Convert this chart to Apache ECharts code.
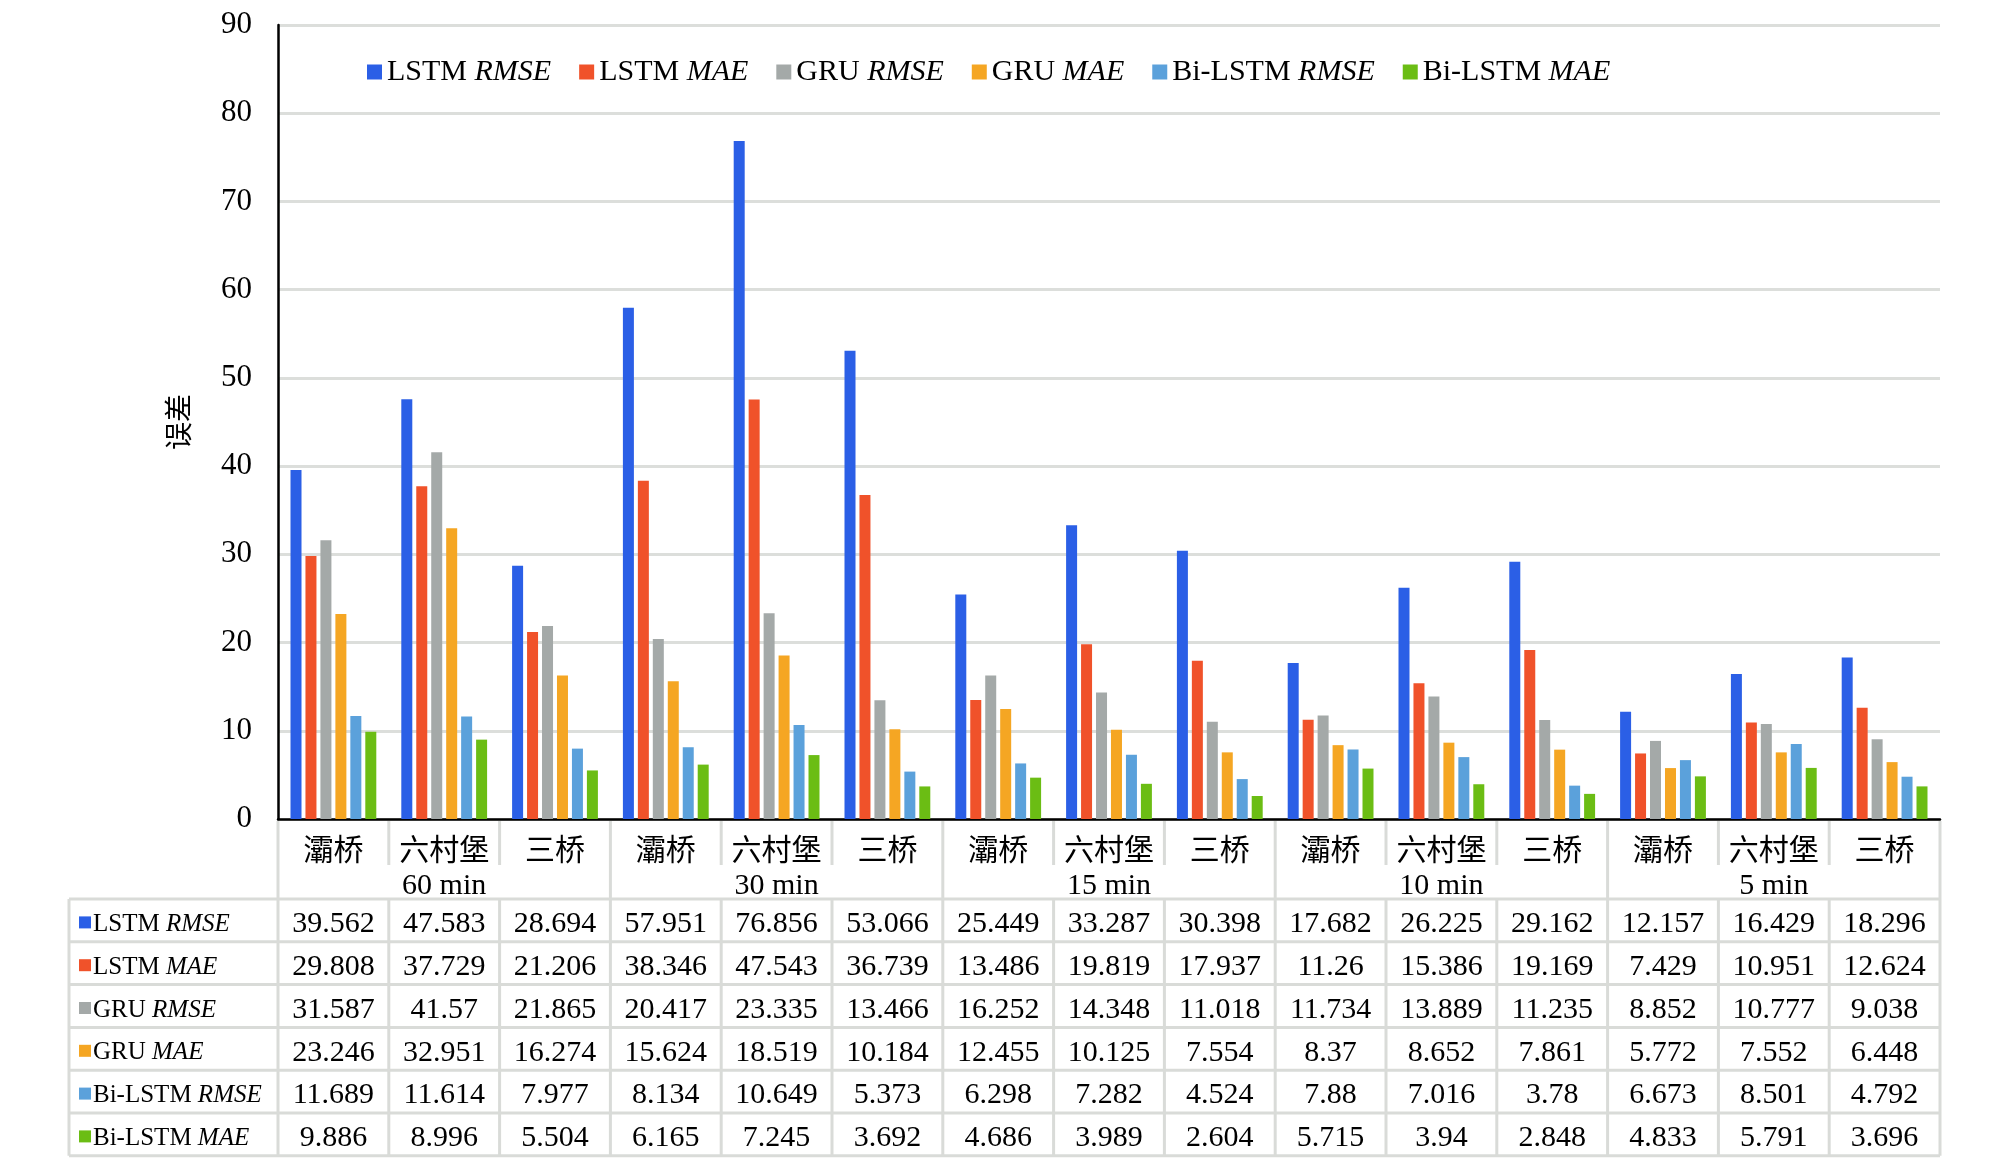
<!DOCTYPE html>
<html><head><meta charset="utf-8">
<script src="https://cdn.jsdelivr.net/npm/echarts@6/dist/echarts.min.js"></script>
<style>html,body{margin:0;padding:0;background:#fff}#c{width:2008px;height:1169px}</style>
</head><body><div id="c"></div>
<script>
const categories = ['灞桥','六村堡','三桥','灞桥','六村堡','三桥','灞桥','六村堡','三桥','灞桥','六村堡','三桥','灞桥','六村堡','三桥'];
const groups = ['60 min','30 min','15 min','10 min','5 min'];
const seriesModel = ['LSTM','LSTM','GRU','GRU','Bi-LSTM','Bi-LSTM'];
const seriesMetric = ['RMSE','MAE','RMSE','MAE','RMSE','MAE'];
const colors = ['#2b5fe6','#f0522a','#a4a9a8','#f5a623','#5ba1db','#6bbd14'];
const lstmRmse = [39.562,47.583,28.694,57.951,76.856,53.066,25.449,33.287,30.398,17.682,26.225,29.162,12.157,16.429,18.296];
const lstmMae  = [29.808,37.729,21.206,38.346,47.543,36.739,13.486,19.819,17.937,11.26,15.386,19.169,7.429,10.951,12.624];
const gruRmse  = [31.587,41.57,21.865,20.417,23.335,13.466,16.252,14.348,11.018,11.734,13.889,11.235,8.852,10.777,9.038];
const gruMae   = [23.246,32.951,16.274,15.624,18.519,10.184,12.455,10.125,7.554,8.37,8.652,7.861,5.772,7.552,6.448];
const biRmse   = [11.689,11.614,7.977,8.134,10.649,5.373,6.298,7.282,4.524,7.88,7.016,3.78,6.673,8.501,4.792];
const biMae    = [9.886,8.996,5.504,6.165,7.245,3.692,4.686,3.989,2.604,5.715,3.94,2.848,4.833,5.791,3.696];
const allData = [lstmRmse,lstmMae,gruRmse,gruMae,biRmse,biMae];
const yAxisName = '误差';

const SERIF = "'Liberation Serif','Noto Sans CJK SC',serif";
const names = seriesModel.map((m,i)=>m+' '+seriesMetric[i]);
const chart = echarts.init(document.getElementById('c'));
const richLabel = (size)=>({
  n:{fontFamily:SERIF,fontSize:size,color:'#000'},
  i:{fontFamily:SERIF,fontSize:size,color:'#000',fontStyle:'italic'}
});
const fmt = name => { const p = name.split(' '); return '{n|'+p[0]+'} {i|'+p[1]+'}'; };

chart.setOption({
  animation:false,
  backgroundColor:'#fff',
  grid:{left:278,right:68,top:25,bottom:350,containLabel:false},
  legend:{
    left:362, top:52, itemWidth:15, itemHeight:15, itemGap:28, icon:'rect',
    data:names, formatter:fmt,
    textStyle:{fontFamily:SERIF,fontSize:30,color:'#000',rich:richLabel(30)}
  },
  xAxis:{
    type:'category', data:categories,
    axisLine:{lineStyle:{color:'#000',width:2.5}},
    axisTick:{show:false},
    axisLabel:{fontFamily:SERIF,fontSize:30,color:'#000',margin:18,interval:0}
  },
  yAxis:{
    type:'value', min:0, max:90, interval:10,
    name:yAxisName, nameLocation:'middle', nameGap:86, nameRotate:90,
    nameTextStyle:{fontFamily:"'Noto Sans CJK SC',sans-serif",fontSize:28,color:'#000'},
    axisLine:{show:true,lineStyle:{color:'#000',width:2.5}},
    axisTick:{show:false},
    axisLabel:{fontFamily:SERIF,fontSize:31,color:'#000',margin:26},
    splitLine:{lineStyle:{color:'#dcdedb',width:3}}
  },
  series: names.map((n,i)=>({
    name:n, type:'bar', data:allData[i], barWidth:11, barGap:'36%',
    itemStyle:{color:colors[i]}
  }))
});

// table built from the axis geometry
const c0 = chart.convertToPixel({xAxisIndex:0}, 0);
const c1 = chart.convertToPixel({xAxisIndex:0}, 1);
const cw = c1 - c0;
const xEdge = i => c0 - cw/2 + i*cw;
const xCenter = i => c0 + i*cw;
const yAxis0 = chart.convertToPixel({yAxisIndex:0}, 0);
const tableLeft = 69;
const headBottom = yAxis0 + 80;
const rowH = 42.8;
const nRows = allData.length;
const tableBottom = headBottom + nRows*rowH;
const LC = '#d9dbd8', LW = 3;
const g = [];
const line = (x1,y1,x2,y2)=>g.push({type:'line',shape:{x1,y1,x2,y2},style:{stroke:LC,lineWidth:LW},z:1});
// header verticals
for (let i=0;i<=categories.length;i++){
  const full = (i%3===0);
  line(xEdge(i), yAxis0+2, xEdge(i), full ? headBottom : yAxis0+46);
}
// header group labels
groups.forEach((t,k)=>{
  g.push({type:'text',x:xCenter(k*3+1),y:yAxis0+67,style:{text:t,fontFamily:SERIF,fontSize:30,fill:'#000',align:'center',verticalAlign:'middle'},z:2});
});
// rows
for (let r=0;r<=nRows;r++) line(tableLeft, headBottom+r*rowH, xEdge(categories.length), headBottom+r*rowH);
line(tableLeft, headBottom, tableLeft, tableBottom);
for (let i=0;i<=categories.length;i++) line(xEdge(i), headBottom, xEdge(i), tableBottom);
allData.forEach((arr,r)=>{
  const cy = headBottom + r*rowH + rowH/2 + 4;
  g.push({type:'rect',shape:{x:79,y:cy-8,width:12,height:12},style:{fill:colors[r]},z:2});
  g.push({type:'text',x:93,y:cy,style:{text:fmt(names[r]),rich:richLabel(25),fontFamily:SERIF,fontSize:25,fill:'#000',align:'left',verticalAlign:'middle'},z:2});
  arr.forEach((v,i)=>{
    g.push({type:'text',x:xCenter(i),y:cy,style:{text:String(v),fontFamily:SERIF,fontSize:30,fill:'#000',align:'center',verticalAlign:'middle'},z:2});
  });
});
chart.setOption({graphic:g});
</script></body></html>
